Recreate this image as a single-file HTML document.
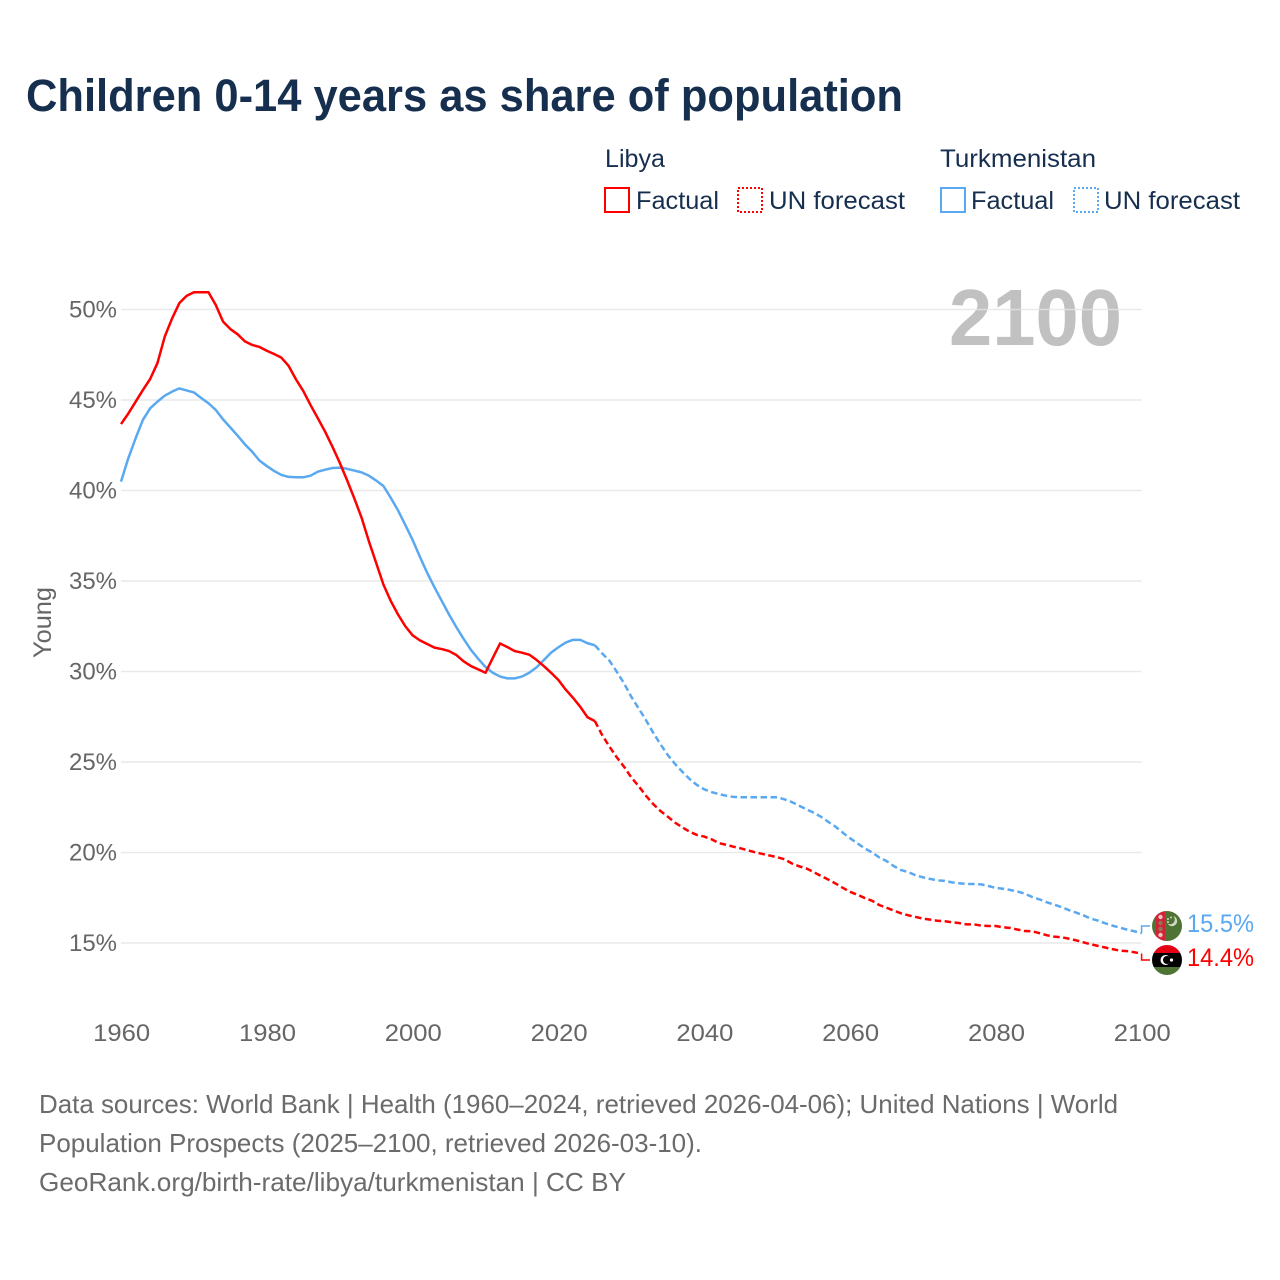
<!DOCTYPE html>
<html lang="en">
<head>
<meta charset="utf-8">
<title>Children 0-14 years as share of population</title>
<style>
html,body{margin:0;padding:0;background:#fff;width:1280px;height:1280px;overflow:hidden}
svg{display:block}
text{font-family:"Liberation Sans",sans-serif}
</style>
</head>
<body>
<svg id="chart" xmlns="http://www.w3.org/2000/svg" width="1280" height="1280" viewBox="0 0 1280 1280">
  <text x="26" y="111" font-size="45" font-weight="700" fill="#172f4f" textLength="877" lengthAdjust="spacingAndGlyphs">Children 0-14 years as share of population</text>

  <g fill="#172f4f" font-size="25">
    <text x="605" y="167" textLength="60" lengthAdjust="spacingAndGlyphs">Libya</text>
    <g>
      <rect x="605" y="188" width="24" height="24" fill="none" stroke="#ff0000" stroke-width="2" shape-rendering="crispEdges"/>
      <text x="636" y="209" textLength="83" lengthAdjust="spacingAndGlyphs">Factual</text>
    </g>
    <g>
      <rect x="738" y="188" width="24" height="24" fill="none" stroke="#ff0000" stroke-width="2" stroke-dasharray="2 2" shape-rendering="crispEdges"/>
      <text x="769" y="209" textLength="136" lengthAdjust="spacingAndGlyphs">UN forecast</text>
    </g>
    <text x="940" y="167" textLength="156" lengthAdjust="spacingAndGlyphs">Turkmenistan</text>
    <g>
      <rect x="941" y="188" width="24" height="24" fill="none" stroke="#5aa9f0" stroke-width="2" shape-rendering="crispEdges"/>
      <text x="971" y="209" textLength="83" lengthAdjust="spacingAndGlyphs">Factual</text>
    </g>
    <g>
      <rect x="1074" y="188" width="24" height="24" fill="none" stroke="#5aa9f0" stroke-width="2" stroke-dasharray="2 2" shape-rendering="crispEdges"/>
      <text x="1104" y="209" textLength="136" lengthAdjust="spacingAndGlyphs">UN forecast</text>
    </g>
  </g>

  <text x="949" y="345" font-size="80" font-weight="700" fill="#c1c1c1" textLength="173" lengthAdjust="spacingAndGlyphs">2100</text>

  <g id="grid"></g>
  <g id="y-axis"></g>
  <g id="x-axis"></g>

  <text transform="translate(51,658) rotate(-90)" font-size="25" fill="#666" textLength="71" lengthAdjust="spacingAndGlyphs">Young</text>

  <g id="series"></g>

  <g>
    <clipPath id="clip-tm"><circle cx="1167" cy="926" r="15"/></clipPath>
    <g clip-path="url(#clip-tm)">
      <rect x="1152" y="911" width="30" height="30" fill="#4f7332"/>
      <rect x="1156" y="911" width="9" height="30" fill="#d3213a"/>
      <circle cx="1160.5" cy="917" r="2.2" fill="#e9c9b8"/>
      <circle cx="1160.5" cy="923" r="2.2" fill="#8a7a50"/>
      <circle cx="1160.5" cy="929" r="2.2" fill="#8a7a50"/>
      <circle cx="1160.5" cy="935" r="2.2" fill="#e9c9b8"/>
      <circle cx="1172" cy="921" r="5.2" fill="#cfd8c4"/>
      <circle cx="1170" cy="919.5" r="4.8" fill="#4f7332"/>
      <circle cx="1168" cy="919" r="1" fill="#cfd8c4"/>
      <circle cx="1171" cy="917.5" r="1" fill="#cfd8c4"/>
      <circle cx="1168" cy="922" r="1" fill="#cfd8c4"/>
    </g>
  </g>
  <g>
    <clipPath id="clip-ly"><circle cx="1167" cy="960" r="15"/></clipPath>
    <g clip-path="url(#clip-ly)">
      <rect x="1152" y="945" width="30" height="8" fill="#e70013"/>
      <rect x="1152" y="953" width="30" height="14.5" fill="#000"/>
      <rect x="1152" y="967" width="30" height="8" fill="#4f7332"/>
      <circle cx="1165.5" cy="960" r="5" fill="#fff"/>
      <circle cx="1167" cy="960" r="4" fill="#000"/>
      <circle cx="1171.5" cy="960" r="1.6" fill="#fff"/>
    </g>
  </g>

  <text x="1187" y="932" font-size="25" fill="#5aa9f0" textLength="67" lengthAdjust="spacingAndGlyphs">15.5%</text>
  <text x="1187" y="966" font-size="25" fill="#ff0000" textLength="67" lengthAdjust="spacingAndGlyphs">14.4%</text>

  <g font-size="26" fill="#6b6b6b">
    <text x="39" y="1113" textLength="1079" lengthAdjust="spacingAndGlyphs">Data sources: World Bank | Health (1960–2024, retrieved 2026-04-06); United Nations | World</text>
    <text x="39" y="1152" textLength="663" lengthAdjust="spacingAndGlyphs">Population Prospects (2025–2100, retrieved 2026-03-10).</text>
    <text x="39" y="1191" textLength="587" lengthAdjust="spacingAndGlyphs">GeoRank.org/birth-rate/libya/turkmenistan | CC BY</text>
  </g>
</svg>

<script>
const yTicks = [15, 20, 25, 30, 35, 40, 45, 50];
const xTicks = [1960, 1980, 2000, 2020, 2040, 2060, 2080, 2100];

const factualStartYear = 1960;
const forecastStartYear = 2025;

const libyaFactual = [
  43.67,44.25,44.9,45.55,46.16,47.04,48.5,49.5,50.35,50.75,
  50.95,50.95,50.95,50.25,49.33,48.92,48.63,48.24,48.04,47.93,
  47.72,47.54,47.34,46.88,46.14,45.5,44.72,43.99,43.25,42.42,
  41.54,40.58,39.57,38.5,37.2,36.0,34.8,33.9,33.15,32.5,
  32.0,31.72,31.52,31.32,31.24,31.13,30.91,30.56,30.3,30.12,
  29.93,30.75,31.55,31.35,31.13,31.04,30.93,30.64,30.3,29.93,
  29.53,29.0,28.55,28.05,27.47,27.26
];
const turkmenistanFactual = [
  40.49,41.78,42.88,43.9,44.54,44.91,45.24,45.46,45.64,45.53,
  45.42,45.11,44.82,44.45,43.93,43.48,43.03,42.55,42.14,41.65,
  41.35,41.08,40.86,40.75,40.73,40.73,40.82,41.04,41.15,41.24,
  41.26,41.2,41.1,41.0,40.82,40.55,40.25,39.6,38.9,38.1,
  37.27,36.34,35.45,34.65,33.9,33.15,32.45,31.8,31.2,30.7,
  30.25,29.93,29.72,29.62,29.62,29.72,29.93,30.23,30.63,31.04,
  31.34,31.6,31.75,31.75,31.56,31.45
];
const libyaForecast = [
  27.26,26.49,25.85,25.26,24.74,24.15,23.67,23.14,22.68,22.29,
  21.98,21.65,21.39,21.15,20.97,20.88,20.73,20.52,20.43,20.32,
  20.23,20.12,20.01,19.92,19.83,19.74,19.63,19.4,19.24,19.12,
  18.92,18.71,18.51,18.29,18.05,17.83,17.67,17.49,17.34,17.1,
  16.95,16.79,16.64,16.53,16.44,16.35,16.29,16.23,16.2,16.15,
  16.1,16.03,16.03,15.96,15.94,15.94,15.87,15.83,15.74,15.66,
  15.65,15.54,15.43,15.35,15.32,15.24,15.15,15.04,14.93,14.84,
  14.75,14.66,14.58,14.55,14.49,14.41
];
const turkmenistanForecast = [
  31.45,31.0,30.6,29.99,29.35,28.6,27.97,27.32,26.62,25.98,
  25.39,24.89,24.46,24.06,23.73,23.49,23.34,23.23,23.14,23.07,
  23.05,23.05,23.05,23.05,23.05,23.05,22.94,22.79,22.59,22.39,
  22.2,21.98,21.7,21.43,21.1,20.79,20.51,20.23,20.01,19.73,
  19.53,19.25,19.03,18.92,18.74,18.63,18.54,18.46,18.43,18.35,
  18.3,18.26,18.26,18.24,18.15,18.04,18.0,17.93,17.84,17.72,
  17.54,17.41,17.25,17.12,16.99,16.82,16.68,16.53,16.35,16.24,
  16.09,15.96,15.85,15.74,15.65,15.54
];

const NS = 'http://www.w3.org/2000/svg';
function xScale(year) { return 121 + (year - 1960) * (1141.6 - 121) / 140; }
function yScale(pct) { return 943 - (pct - 15) * (943 - 309.5) / 35; }

function makeNode(tag, parent) {
  const node = document.createElementNS(NS, tag);
  parent.appendChild(node);
  return node;
}

const gridLayer = document.getElementById('grid');
const yLayer = document.getElementById('y-axis');
const xLayer = document.getElementById('x-axis');
const seriesLayer = document.getElementById('series');

yTicks.forEach(function (tick) {
  const line = makeNode('line', gridLayer);
  
  
  line.setAttribute('x1', xScale(1960));
  line.setAttribute('x2', xScale(2100));
  line.setAttribute('y1', yScale(tick));
  line.setAttribute('y2', yScale(tick));
  line.setAttribute('stroke', '#e4e4e4');
  line.setAttribute('stroke-opacity', '0.8');
  line.setAttribute('stroke-width', '1.5');

  const label = makeNode('text', yLayer);
  
  
  label.setAttribute('x', 69);
  label.setAttribute('y', yScale(tick) + 8);
  label.setAttribute('font-size', '24');
  label.setAttribute('fill', '#666');
  label.setAttribute('textLength', '48');
  label.setAttribute('lengthAdjust', 'spacingAndGlyphs');
  label.textContent = tick + '%';
});

xTicks.forEach(function (tick) {
  const label = makeNode('text', xLayer);
  
  
  label.setAttribute('x', xScale(tick) - 27.8);
  label.setAttribute('y', 1041);
  label.setAttribute('font-size', '24.5');
  label.setAttribute('fill', '#666');
  label.setAttribute('textLength', '57');
  label.setAttribute('lengthAdjust', 'spacingAndGlyphs');
  label.textContent = tick;
});

function pathFor(values, startYear) {
  return values.map(function (value, i) {
    return (i ? 'L' : 'M') + xScale(startYear + i).toFixed(2) + ' ' + yScale(value).toFixed(2);
  }).join(' ');
}

function drawLine(values, startYear, color, dashed) {
  const path = makeNode('path', seriesLayer);
  
  
  path.setAttribute('d', pathFor(values, startYear));
  path.setAttribute('fill', 'none');
  path.setAttribute('stroke', color);
  path.setAttribute('stroke-width', '2.5');
  path.setAttribute('stroke-linejoin', 'round');
  if (dashed) { path.setAttribute('stroke-dasharray', '6.5 3.5'); }
}

function drawConnector(lastValue, labelY, color) {
  const path = makeNode('path', seriesLayer);
  
  
  path.setAttribute('d', 'M' + xScale(2100) + ' ' + yScale(lastValue) + ' V' + labelY + ' H1150');
  path.setAttribute('fill', 'none');
  path.setAttribute('stroke', color);
  path.setAttribute('stroke-width', '1.5');
}

drawLine(turkmenistanFactual, factualStartYear, '#5aa9f0', false);
drawLine(libyaFactual, factualStartYear, '#ff0000', false);
drawLine(turkmenistanForecast, forecastStartYear, '#5aa9f0', true);
drawLine(libyaForecast, forecastStartYear, '#ff0000', true);
drawConnector(turkmenistanForecast[turkmenistanForecast.length - 1], 926, '#5aa9f0');
drawConnector(libyaForecast[libyaForecast.length - 1], 960, '#ff0000');
</script>
</body>
</html>
